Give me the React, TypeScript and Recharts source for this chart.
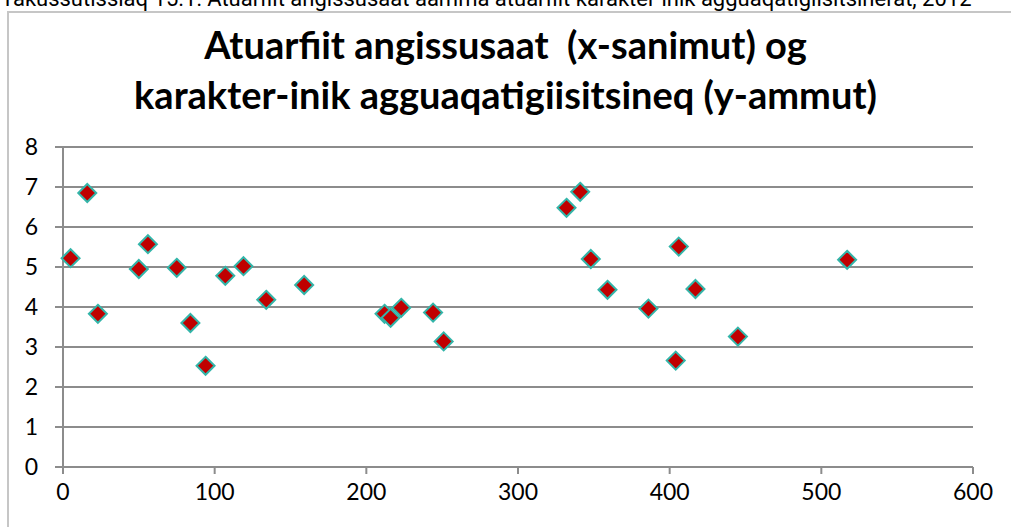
import { ScatterChart, Scatter, XAxis, YAxis, CartesianGrid } from 'recharts';

const schoolSize = [5, 16, 23, 50, 56, 75, 84, 94, 107, 119, 134, 159, 212, 216, 223, 244, 251, 332, 341, 348, 359, 386, 404, 406, 417, 445, 517];
const avgGrade = [5.22, 6.85, 3.83, 4.95, 5.57, 4.98, 3.6, 2.53, 4.78, 5.02, 4.18, 4.55, 3.83, 3.73, 3.98, 3.86, 3.14, 6.48, 6.88, 5.2, 4.43, 3.96, 2.66, 5.51, 4.45, 3.26, 5.18];
const xTicks = [0, 100, 200, 300, 400, 500, 600];
const yTicks = [0, 1, 2, 3, 4, 5, 6, 7, 8];

const points = schoolSize.map((x, i) => ({ x, y: avgGrade[i] }));

const font = 'Lato, "Open Sans", sans-serif';

// diamond marker, red with teal outline
const Diamond = (props: any) => {
  const { cx, cy } = props;
  const r = 9;
  return (
    <polygon
      points={`${cx},${cy - r} ${cx + r},${cy} ${cx},${cy + r} ${cx - r},${cy}`}
      fill="#C00000"
      stroke="#33B5A9"
      strokeWidth={2}
    />
  );
};

export default function App() {
  return (
    <div style={{ position: 'absolute', left: 0, top: 0, width: 1011, height: 527, overflow: 'hidden', background: '#fff' }}>
      <div
        style={{
          position: 'absolute',
          left: 1,
          top: -13,
          fontFamily: 'Roboto, "Liberation Sans", Arial, sans-serif',
          fontSize: 22,
          lineHeight: '23px',
          whiteSpace: 'nowrap',
          color: '#000',
        }}
      >
        Takussutissiaq 15.1: Atuarfiit angissusaat aamma atuarfiit karakter-inik agguaqatigiisitsinerat, 2012
      </div>
      <div
        style={{
          position: 'absolute',
          left: 7,
          top: 11,
          width: 1020,
          height: 540,
          border: '2px solid #c6c6c6',
          boxSizing: 'border-box',
        }}
      />
      <div
        style={{
          position: 'absolute',
          left: 0,
          top: 19,
          width: 1011,
          textAlign: 'center',
          fontFamily: font,
          fontWeight: 700,
          fontSize: 38,
          lineHeight: '50px',
          color: '#000',
          whiteSpace: 'pre',
        }}
      >
        {'Atuarfiit angissusaat  (x-sanimut) og\nkarakter-inik agguaqatigiisitsineq (y-ammut)'}
      </div>
      <div style={{ position: 'absolute', left: 0, top: 0 }}>
        <ScatterChart width={1011} height={527} margin={{ top: 147, right: 38, bottom: 0, left: 0 }}>
          <CartesianGrid horizontal vertical={false} stroke="#8c8c8c" strokeWidth={2} />
          <XAxis
            type="number"
            dataKey="x"
            domain={[0, 600]}
            ticks={xTicks}
            height={60}
            stroke="#8c8c8c"
            strokeWidth={2}
            tickSize={7}
            tickMargin={10}
            tick={{ fill: '#000', fontSize: 23, fontFamily: font }}
          />
          <YAxis
            type="number"
            dataKey="y"
            domain={[0, 8]}
            ticks={yTicks}
            width={63}
            stroke="#8c8c8c"
            strokeWidth={2}
            tickSize={8}
            tickMargin={17}
            tick={{ fill: '#000', fontSize: 23, fontFamily: font }}
          />
          <Scatter data={points} shape={Diamond} isAnimationActive={false} />
        </ScatterChart>
      </div>
    </div>
  );
}
